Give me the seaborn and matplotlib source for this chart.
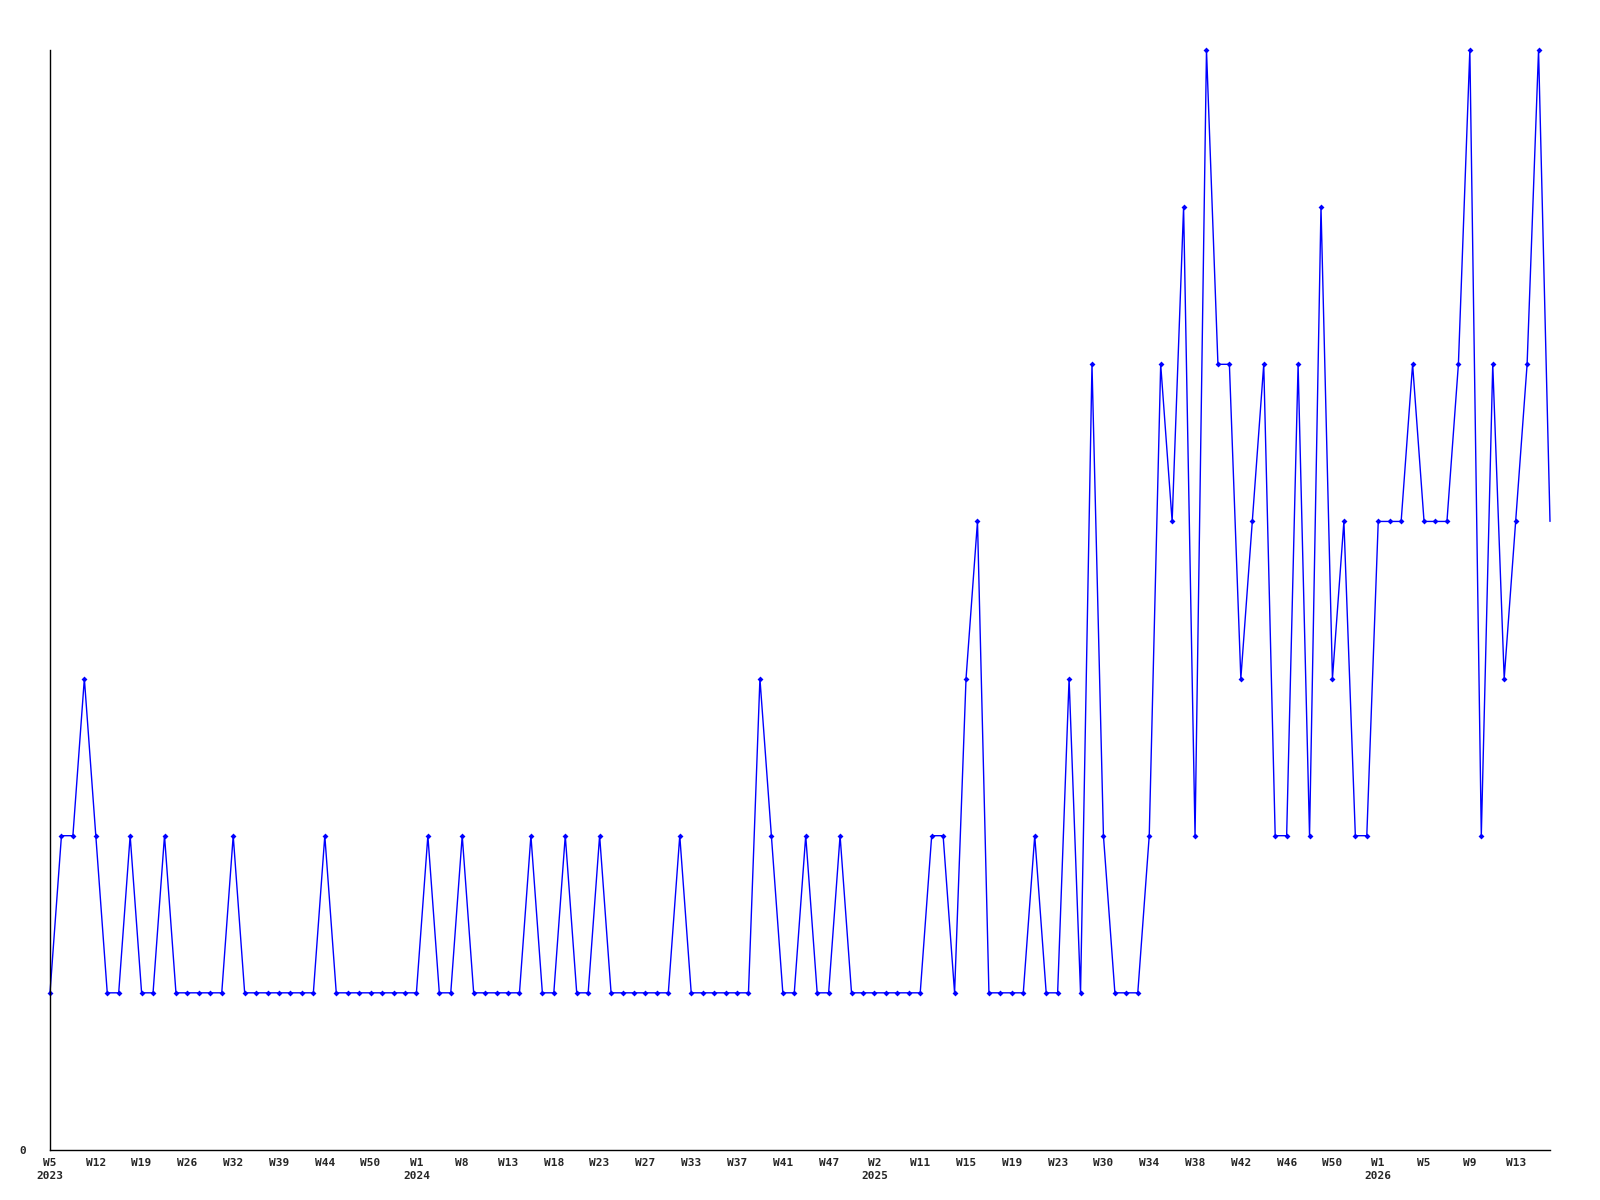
import numpy as np
import pandas as pd
import matplotlib
matplotlib.use("Agg")
import matplotlib.pyplot as plt
import seaborn as sns

# -----------------------------
# Data (one value per sample)
# -----------------------------
counts = [
    1, 2, 2, 3, 2, 1, 1, 2, 1, 1, 2, 1, 1, 1, 1, 1, 2, 1, 1, 1,
    1, 1, 1, 1, 2, 1, 1, 1, 1, 1, 1, 1, 1, 2, 1, 1, 2, 1, 1, 1,
    1, 1, 2, 1, 1, 2, 1, 1, 2, 1, 1, 1, 1, 1, 1, 2, 1, 1, 1, 1,
    1, 1, 3, 2, 1, 1, 2, 1, 1, 2, 1, 1, 1, 1, 1, 1, 1, 2, 2, 1,
    3, 4, 1, 1, 1, 1, 2, 1, 1, 3, 1, 5, 2, 1, 1, 1, 2, 5, 4, 6,
    2, 7, 5, 5, 3, 4, 5, 2, 2, 5, 2, 6, 3, 4, 2, 2, 4, 4, 4, 5,
    4, 4, 4, 5, 7, 2, 5, 3, 4, 5, 7, 4,
]

week_labels = [
    "W5", "W12", "W19", "W26", "W32", "W39", "W44", "W50",
    "W1", "W8", "W13", "W18", "W23", "W27", "W33", "W37", "W41", "W47",
    "W2", "W11", "W15", "W19", "W23", "W30", "W34", "W38", "W42", "W46", "W50",
    "W1", "W5", "W9", "W13",
]
# year shown under the first label of each year
year_marks = {0: "2023", 8: "2024", 18: "2025", 29: "2026"}
label_step = 4

df = pd.DataFrame({"idx": np.arange(len(counts)), "count": counts})

# -----------------------------
# Plot
# -----------------------------
sns.set_style("white")
plt.rcParams['font.family'] = ['DejaVu Sans Mono']

fig = plt.figure(figsize=(16, 12), dpi=100)
ax = fig.add_axes([0.03125, 0.0417, 0.9375, 0.9166])

# last sample drawn without a marker (incomplete period)
sns.lineplot(data=df, x="idx", y="count", ax=ax, color="#0000ff",
             linewidth=1.0, marker="D", markersize=3, markeredgewidth=0,
             markevery=list(range(len(counts) - 1)), clip_on=False)

ax.set_xlim(0, len(counts) - 1)
ax.set_ylim(0, max(counts))

ticks = np.arange(len(week_labels)) * label_step
labels = [w + ("\n" + year_marks[i] if i in year_marks else "")
          for i, w in enumerate(week_labels)]
ax.set_xticks(ticks)
ax.set_xticklabels(labels, fontsize=8, fontweight="bold", linespacing=1.35,
                   va="top")
ax.set_yticks([0])
ax.set_yticklabels(["0"], fontsize=8, fontweight="bold")
ax.tick_params(axis="x", length=0, pad=6)
ax.tick_params(axis="y", length=0, pad=17)

ax.set_xlabel("")
ax.set_ylabel("")
sns.despine(ax=ax)
for side in ["left", "bottom"]:
    ax.spines[side].set_color("black")
    ax.spines[side].set_linewidth(1.0)

fig.savefig("out.png", dpi=100, facecolor="white")
